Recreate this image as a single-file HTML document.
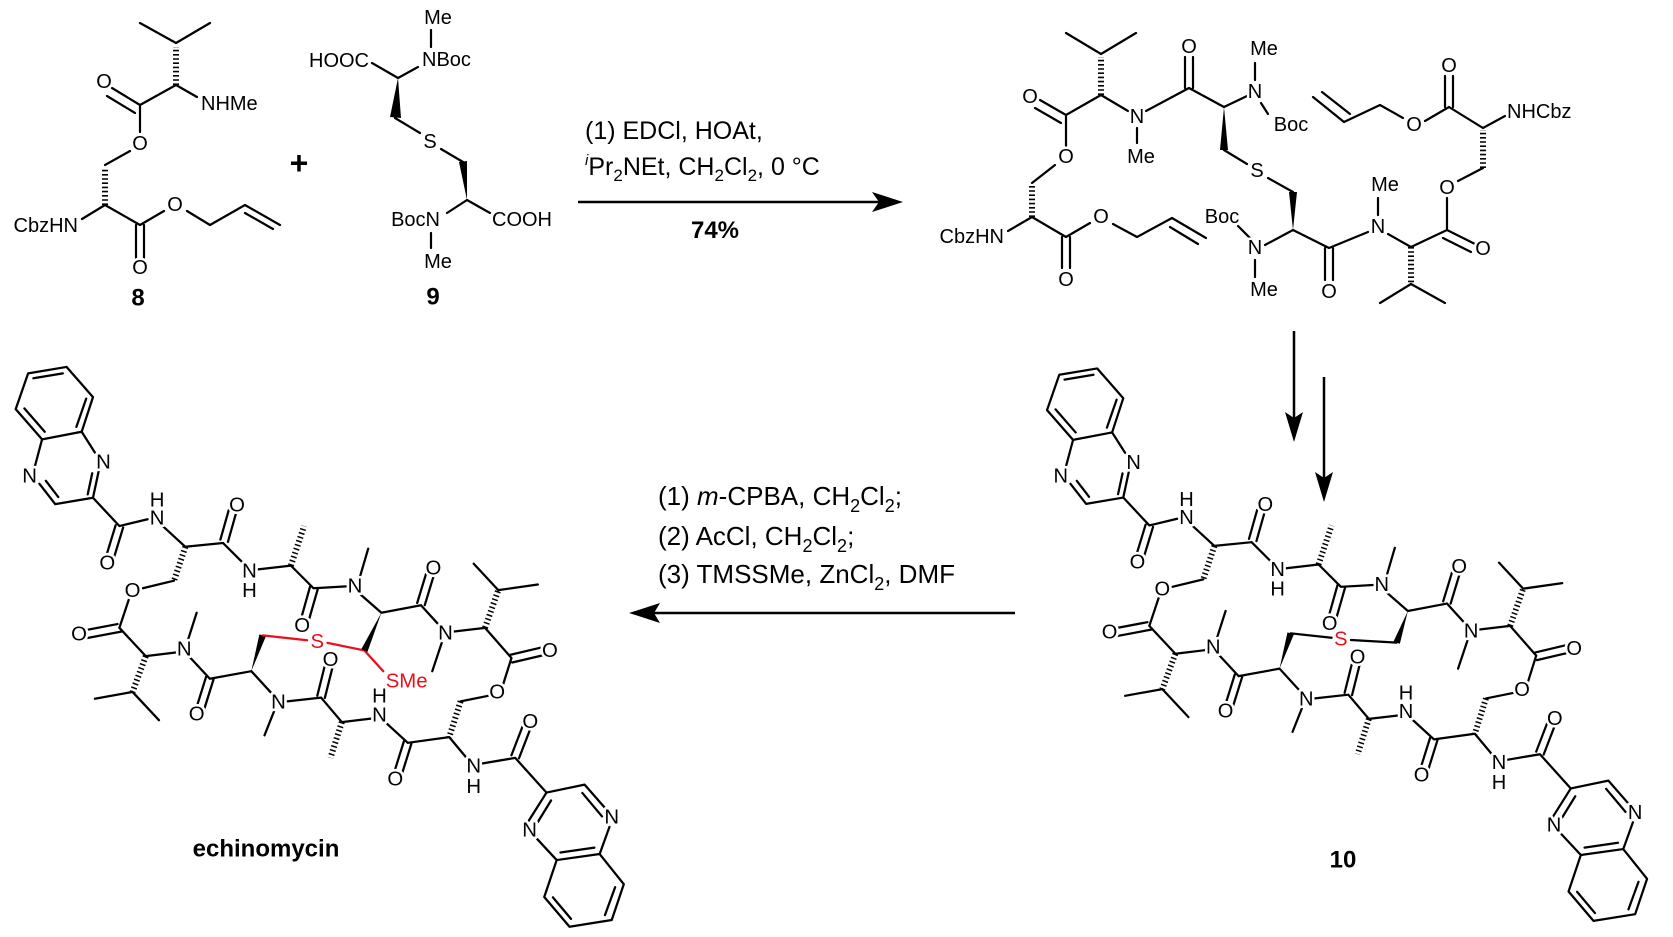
<!DOCTYPE html>
<html><head><meta charset="utf-8"><style>
html,body{margin:0;padding:0;background:#fff;}
svg{display:block;}
.b{fill:none;stroke:#000;stroke-width:2.2;stroke-linecap:round;stroke-linejoin:round;}
.h{fill:none;stroke:#000;stroke-width:6;stroke-dasharray:1.6 2.6;}
.t{font-family:"Liberation Sans",Arial,sans-serif;font-size:20px;fill:#000;stroke:#fff;stroke-width:5;paint-order:stroke;stroke-linejoin:round;dominant-baseline:central;}
.m{text-anchor:middle;}
.e{text-anchor:end;}
.bold{font-weight:bold;font-size:24px;stroke:none;}
.z .bb{fill:none;stroke:#000;stroke-width:6;stroke-linecap:round;stroke-linejoin:round;}
.z .tt{font-family:"Liberation Sans",Arial,sans-serif;font-size:54px;fill:#000;stroke:#fff;stroke-width:14;paint-order:stroke;stroke-linejoin:round;dominant-baseline:central;text-anchor:middle;}
.red{fill:#e8101a !important;}
.rl{stroke:#e8101a !important;}
.rc{font-family:"Liberation Sans",Arial,sans-serif;font-size:25px;fill:#000;}
</style></head><body>
<svg width="1673" height="937" viewBox="0 0 1673 937" xmlns="http://www.w3.org/2000/svg">
<rect width="1673" height="937" fill="#fff"/>
<defs>
<g id="core">
<path fill="none" stroke="#000" stroke-width="6" stroke-linecap="round" stroke-linejoin="round" d="M35,210 L68,115 L170,98 L240,178 L210,270 L105,290 Z M82,128 L160,115 M222,182 L196,257 M58,208 L112,270 M210,270 L245,325 M255,375 L240,445 L140,462 L98,408 M85,365 L105,290 M238,380 L226,436 M148,443 L115,400"/>
<path fill="none" stroke="#000" stroke-width="6" stroke-linecap="round" stroke-linejoin="round" d="M240,445 L310,520 L385,502 M300,518 L275,600 M320,524 L295,606 M425,520 L485,575 L585,565 M578,556 L600,478 M598,562 L620,484 M455,665 L372,685 M585,565 L638,618 M678,635 L765,625 M765,625 L825,685 L912,680 M816,680 L793,762 M836,688 L813,768 M948,655 L970,580 M950,702 L1005,750 L1110,730 M1100,724 L1124,645 M1120,730 L1144,651 M1110,730 L1160,785 M1165,830 L1140,905 M1195,800 L1280,790 M1315,690 L1250,620 M1315,690 L1420,675 M1280,790 L1350,870 M1345,862 L1430,842 M1352,882 L1437,862 M1350,870 L1328,940 M1290,970 L1215,985 M1185,1080 L1075,1095 M1065,1090 L1040,1170 M1085,1096 L1060,1176 M1075,1095 L1015,1040 M985,1030 L900,1040 M900,1040 L845,975 M835,970 L855,890 M855,976 L875,896 M845,975 L755,985 M720,1012 L695,1075 M715,965 L660,905 M660,905 L550,925 M540,920 L515,1000 M560,926 L535,1006 M550,925 L497,868 M492,822 L515,750 M462,855 L380,865 M345,960 L245,978 M345,960 L415,1035 M380,865 L310,790 M305,780 L215,797 M315,800 L225,817 M310,790 L335,715 M1185,1080 L1235,1140 M1272,1150 L1360,1135 L1443,1227 M1350,1128 L1380,1050 M1370,1136 L1400,1058"/>
<path fill="none" stroke="#000" stroke-width="6" stroke-linecap="round" stroke-linejoin="round" d="M1443,1227 L1544,1206 L1600,1270 M1610,1318 L1584,1390 L1470,1406 L1418,1350 M1395,1303 L1443,1227 M1538,1228 L1590,1290 M1455,1248 L1420,1305 M1570,1373 L1480,1386 M1584,1390 L1648,1470 L1616,1565 L1504,1583 L1437,1504 L1470,1406 M1625,1478 L1598,1552 M1508,1562 L1460,1505"/>
<path fill="none" stroke="#000" stroke-width="16" stroke-dasharray="4 7" d="M485,575 L455,665 M765,625 L800,520 M1280,790 L1315,690 M1215,985 L1185,1080 M900,1040 L870,1135 M380,865 L345,960"/>
<polygon points="660,905 698.6,812.7 681.4,807.3" fill="#000"/>
</g>
</defs>

<!-- compound 8 -->
<path class="b" d="M140,23 L176,43 L210,23 M176,85 L140,105 M140,105 L112,88 M135,113 L107,96 M176,85 L197,97 M140,105 L140,132 M130,151 L105,165 M105,205 L82,219 M105,205 L140,225 M136,225 L136,258 M144,225 L144,258 M140,225 L164,211 M187,211 L210,225 L245,205 L280,225 M245,213 L273,229"/>
<path class="h" d="M176,85 L176,47 M105,205 L105,168"/>
<text class="t m" x="104" y="82">O</text>
<text class="t" x="201" y="104">NHMe</text>
<text class="t m" x="140" y="144">O</text>
<text class="t e" x="78" y="226">CbzHN</text>
<text class="t m" x="140" y="268">O</text>
<text class="t m" x="175" y="205">O</text>
<text class="t bold m" x="138" y="298">8</text>
<text class="t bold m" x="299" y="163" style="font-size:32px">+</text>

<!-- compound 9 -->
<path class="b" d="M431,30 L431,47 M372,63 L398,78 L418,67 M395,118 L420,133 M441,149 L463,162 M467,200 L447,213 M467,200 L490,213 M431,233 L431,248"/>
<polygon points="398,78 401,118 390,117" fill="#000"/>
<polygon points="467,200 467,161 459,162" fill="#000"/>
<text class="t m" x="438" y="18">Me</text>
<text class="t" x="422" y="60">NBoc</text>
<text class="t e" x="369" y="61">HOOC</text>
<text class="t m" x="430" y="142">S</text>
<text class="t e" x="440" y="220">BocN</text>
<text class="t" x="492" y="220">COOH</text>
<text class="t m" x="438" y="262">Me</text>
<text class="t bold m" x="433" y="297">9</text>

<!-- reaction 1 -->
<text class="rc" x="585" y="139">(1) EDCl, HOAt,</text>
<text class="rc" x="585" y="175"><tspan font-style="italic" font-size="15" dy="-10">i</tspan><tspan dy="10">Pr</tspan><tspan font-size="17" dy="6">2</tspan><tspan dy="-6">NEt, CH</tspan><tspan font-size="17" dy="6">2</tspan><tspan dy="-6">Cl</tspan><tspan font-size="17" dy="6">2</tspan><tspan dy="-6">, 0 °C</tspan></text>
<line x1="578" y1="202" x2="880" y2="202" stroke="#000" stroke-width="2.5"/>
<polygon points="903,202 872,192 879,202 872,212" fill="#000"/>
<text class="rc m" x="715" y="238" style="font-weight:bold;font-size:24px;text-anchor:middle">74%</text>

<!-- product -->
<path class="b" d="M1066,33 L1101,54 L1136,33 M1101,95 L1066,115 M1066,115 L1040,100 M1061,123 L1035,108 M1066,115 L1066,146 M1055,165 L1032,183 M1032,217 L1008,231 M1032,217 L1066,237 M1062,237 L1062,268 M1070,237 L1070,268 M1066,237 L1090,223 M1113,224 L1137,237 L1172,218 L1206,238 M1170,227 L1198,244 M1101,95 L1128,111 M1137,128 L1137,143 M1146,111 L1189,88 M1185,88 L1185,57 M1193,88 L1193,57 M1189,88 L1224,107 L1247,96 M1255,80 L1255,63 M1261,103 L1268,114 M1224,150 L1247,164 M1268,178 L1293,192 M1293,230 L1265,245 M1238,226 L1250,238 M1255,260 L1255,277 M1293,230 L1329,248 L1368,232 M1325,248 L1325,280 M1333,248 L1333,280 M1378,215 L1378,198 M1388,234 L1411,247 L1447,230 M1411,284 L1380,303 M1411,284 L1445,303 M1447,230 L1475,244 M1443,238 L1471,252 M1447,230 L1447,198 M1458,181 L1483,168 M1483,128 L1505,116 M1483,128 L1449,107 M1445,107 L1445,76 M1453,107 L1453,76 M1449,107 L1425,121 M1403,118 L1380,105 L1344,122 L1313,97 M1350,114 L1322,92"/>
<path class="h" d="M1101,95 L1101,57 M1032,217 L1032,186 M1411,247 L1411,284 M1483,168 L1483,130"/>
<polygon points="1224,107 1228,150 1220,150" fill="#000"/>
<polygon points="1293,230 1297,192 1289,192" fill="#000"/>
<text class="t m" x="1030" y="97">O</text>
<text class="t m" x="1066" y="157">O</text>
<text class="t e" x="1004" y="237">CbzHN</text>
<text class="t m" x="1066" y="280">O</text>
<text class="t m" x="1101" y="217">O</text>
<text class="t m" x="1137" y="117">N</text>
<text class="t m" x="1141" y="157">Me</text>
<text class="t m" x="1189" y="47">O</text>
<text class="t m" x="1255" y="92">N</text>
<text class="t m" x="1264" y="49">Me</text>
<text class="t m" x="1291" y="125">Boc</text>
<text class="t m" x="1257" y="171">S</text>
<text class="t m" x="1255" y="248">N</text>
<text class="t m" x="1222" y="217">Boc</text>
<text class="t m" x="1264" y="290">Me</text>
<text class="t m" x="1329" y="292">O</text>
<text class="t m" x="1378" y="227">N</text>
<text class="t m" x="1385" y="185">Me</text>
<text class="t m" x="1483" y="249">O</text>
<text class="t m" x="1447" y="188">O</text>
<text class="t" x="1507" y="112">NHCbz</text>
<text class="t m" x="1449" y="66">O</text>
<text class="t m" x="1414" y="125">O</text>

<!-- down arrows -->
<line x1="1294" y1="331" x2="1294" y2="420" stroke="#000" stroke-width="2.5"/>
<polygon points="1294,442 1285,412 1294,418 1303,412" fill="#000"/>
<line x1="1324" y1="377" x2="1324" y2="480" stroke="#000" stroke-width="2.5"/>
<polygon points="1324,502 1315,472 1324,478 1333,472" fill="#000"/>

<!-- reaction 2 -->
<text class="rc" x="658" y="505" style="font-size:26px">(1) <tspan font-style="italic">m</tspan>-CPBA, CH<tspan font-size="18" dy="7">2</tspan><tspan dy="-7">Cl</tspan><tspan font-size="18" dy="7">2</tspan><tspan dy="-7">;</tspan></text>
<text class="rc" x="658" y="545" style="font-size:26px">(2) AcCl, CH<tspan font-size="18" dy="7">2</tspan><tspan dy="-7">Cl</tspan><tspan font-size="18" dy="7">2</tspan><tspan dy="-7">;</tspan></text>
<text class="rc" x="658" y="583" style="font-size:26px">(3) TMSSMe, ZnCl<tspan font-size="18" dy="7">2</tspan><tspan dy="-7">, DMF</tspan></text>
<line x1="1015" y1="613" x2="650" y2="613" stroke="#000" stroke-width="2.5"/>
<polygon points="629,613 660,603 654,613 660,623" fill="#000"/>

<!-- echinomycin -->
<g class="z" transform="translate(2.5,330) scale(0.377)">
<use href="#core"/>
<path class="bb rl" d="M690,810 L808,823 M862,830 L960,850 L1010,905"/>
<polygon points="1005,750 968,854 952,846" fill="#000"/>
<text class="tt" x="268" y="352">N</text>
<text class="tt" x="72" y="388">N</text>
<text class="tt" x="278" y="620">O</text>
<text class="tt" x="410" y="500">N</text>
<text class="tt" x="410" y="452">H</text>
<text class="tt" x="622" y="465">O</text>
<text class="tt" x="345" y="692">O</text>
<text class="tt" x="655" y="640">N</text>
<text class="tt" x="655" y="692">H</text>
<text class="tt" x="795" y="785">O</text>
<text class="tt" x="935" y="680">N</text>
<text class="tt" x="1143" y="632">O</text>
<text class="tt" x="1175" y="805">N</text>
<text class="tt" x="1452" y="852">O</text>
<text class="tt" x="1312" y="962">O</text>
<text class="tt" x="1042" y="1192">O</text>
<text class="tt" x="1000" y="1022">N</text>
<text class="tt" x="1000" y="972">H</text>
<text class="tt" x="870" y="875">O</text>
<text class="tt" x="732" y="988">N</text>
<text class="tt" x="515" y="1020">O</text>
<text class="tt" x="482" y="848">N</text>
<text class="tt" x="203" y="808">O</text>
<text class="tt" x="1250" y="1158">N</text>
<text class="tt" x="1250" y="1212">H</text>
<text class="tt" x="1400" y="1040">O</text>
<text class="tt" x="1616" y="1293">N</text>
<text class="tt" x="1398" y="1327">N</text>
<text class="tt red" x="835" y="828">S</text>
<text class="tt red" x="1072" y="932">SMe</text>
</g>
<text class="t bold m" x="266" y="849">echinomycin</text>

<!-- compound 10 -->
<g class="z" transform="translate(1034,332) scale(0.372)">
<use href="#core"/>
<path class="bb" d="M690,810 L800,822 M852,828 L975,835"/>
<polygon points="1005,750 983.5,838 966.5,832" fill="#000"/>
<text class="tt" x="268" y="352">N</text>
<text class="tt" x="72" y="388">N</text>
<text class="tt" x="278" y="620">O</text>
<text class="tt" x="410" y="500">N</text>
<text class="tt" x="410" y="452">H</text>
<text class="tt" x="622" y="465">O</text>
<text class="tt" x="345" y="692">O</text>
<text class="tt" x="655" y="640">N</text>
<text class="tt" x="655" y="692">H</text>
<text class="tt" x="795" y="785">O</text>
<text class="tt" x="935" y="680">N</text>
<text class="tt" x="1143" y="632">O</text>
<text class="tt" x="1175" y="805">N</text>
<text class="tt" x="1452" y="852">O</text>
<text class="tt" x="1312" y="962">O</text>
<text class="tt" x="1042" y="1192">O</text>
<text class="tt" x="1000" y="1022">N</text>
<text class="tt" x="1000" y="972">H</text>
<text class="tt" x="870" y="875">O</text>
<text class="tt" x="732" y="988">N</text>
<text class="tt" x="515" y="1020">O</text>
<text class="tt" x="482" y="848">N</text>
<text class="tt" x="203" y="808">O</text>
<text class="tt" x="1250" y="1158">N</text>
<text class="tt" x="1250" y="1212">H</text>
<text class="tt" x="1400" y="1040">O</text>
<text class="tt" x="1616" y="1293">N</text>
<text class="tt" x="1398" y="1327">N</text>
<text class="tt red" x="825" y="826">S</text>
</g>
<text class="t bold m" x="1343" y="860">10</text>
</svg>
</body></html>
